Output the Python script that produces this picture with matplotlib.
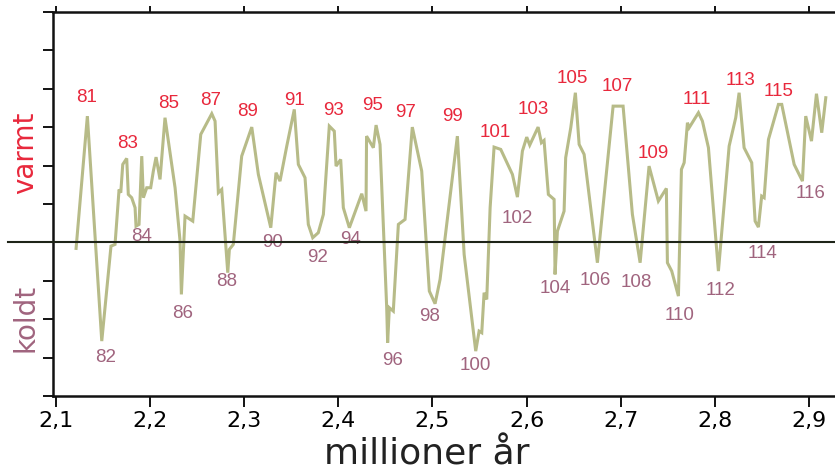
import matplotlib
matplotlib.use("Agg")
import matplotlib.pyplot as plt
from matplotlib.ticker import FixedLocator, FuncFormatter

# climate curve (million years, relative temperature)
age = [2.1213, 2.1333, 2.1486, 2.1584, 2.1627, 2.1670, 2.1688, 2.1709, 2.1751, 2.1768,
       2.1804, 2.1840, 2.1850, 2.1882, 2.1911, 2.1928, 2.1964, 2.2006, 2.2034, 2.2063,
       2.2105, 2.2158, 2.2265, 2.2318, 2.2332, 2.2371, 2.2453, 2.2538, 2.2655, 2.2690,
       2.2725, 2.2761, 2.2825, 2.2842, 2.2884, 2.2973, 2.3080, 2.3150, 2.3282, 2.3338,
       2.3380, 2.3452, 2.3532, 2.3575, 2.3646, 2.3681, 2.3728, 2.3787, 2.3841, 2.3904,
       2.3957, 2.3976, 2.4025, 2.4053, 2.4117, 2.4249, 2.4294, 2.4300, 2.4372, 2.4401,
       2.4443, 2.4514, 2.4524, 2.4542, 2.4584, 2.4638, 2.4709, 2.4786, 2.4886, 2.4967,
       2.5028, 2.5081, 2.5265, 2.5337, 2.5460, 2.5496, 2.5524, 2.5549, 2.5577, 2.5613,
       2.5655, 2.5726, 2.5850, 2.5903, 2.5956, 2.6002, 2.6034, 2.6123, 2.6158, 2.6186,
       2.6232, 2.6293, 2.6303, 2.6328, 2.6399, 2.6416, 2.6470, 2.6519, 2.6559, 2.6612,
       2.6753, 2.6920, 2.7026, 2.7125, 2.7207, 2.7302, 2.7401, 2.7486, 2.7497, 2.7543,
       2.7614, 2.7646, 2.7675, 2.7710, 2.7728, 2.7827, 2.7869, 2.7933, 2.8039, 2.8153,
       2.8223, 2.8259, 2.8312, 2.8393, 2.8429, 2.8464, 2.8499, 2.8525, 2.8571, 2.8677,
       2.8712, 2.8844, 2.8932, 2.8967, 2.9028, 2.9081, 2.9137, 2.9180]
temp = [-0.156, 3.289, -2.570, -0.096, -0.052, 1.380, 1.294, 2.031, 2.188, 1.250,
        1.164, 0.904, 0.424, 0.469, 2.247, 1.164, 1.424, 1.424, 1.857, 2.221,
        1.641, 3.247, 1.424, 0.034, -1.354, 0.685, 0.555, 2.813, 3.352, 3.159,
        1.294, 1.380, -0.789, -0.182, -0.052, 2.247, 3.003, 1.771, 0.383, 1.815,
        1.596, 2.508, 3.464, 2.031, 1.685, 0.469, 0.122, 0.253, 0.729, 3.029,
        2.898, 1.987, 2.161, 0.904, 0.383, 1.268, 0.815, 2.768, 2.466, 3.055,
        2.552, -1.701, -2.612, -1.701, -1.789, 0.469, 0.599, 3.003, 1.857, -1.268,
        -1.596, -0.964, 2.768, -0.313, -2.831, -2.310, -2.352, -1.310, -1.484, 0.904,
        2.482, 2.422, 1.771, 1.180, 2.378, 2.742, 2.534, 3.003, 2.596, 2.656,
        1.250, 1.120, -0.833, 0.294, 0.815, 2.206, 2.987, 3.898, 2.552, 2.292,
        -0.529, 3.549, 3.549, 0.729, -0.529, 1.987, 1.076, 1.406, -0.529, -0.747,
        -1.398, 1.901, 2.076, 3.117, 2.987, 3.378, 3.159, 2.466, -0.747, 2.508,
        3.247, 3.898, 2.466, 2.076, 0.555, 0.398, 1.206, 1.164, 2.682, 3.594,
        3.594, 2.031, 1.596, 3.289, 2.638, 3.872, 2.857, 3.768]

# stage numbers: warm (odd) and cold (even)
warm_num = [81, 83, 85, 87, 89, 91, 93, 95, 97, 99, 101, 103, 105, 107, 109, 111, 113, 115]
warm_x = [2.1329, 2.1755, 2.2201, 2.2647, 2.3040, 2.3529, 2.3944, 2.4369, 2.4719, 2.5208,
          2.5665, 2.6069, 2.6483, 2.6962, 2.7344, 2.7812, 2.8279, 2.8683]
warm_y = [3.776, 2.578, 3.620, 3.698, 3.411, 3.698, 3.438, 3.568, 3.385, 3.281,
          2.865, 3.464, 4.271, 4.063, 2.318, 3.724, 4.219, 3.932]
cold_num = [82, 84, 86, 88, 90, 92, 94, 96, 98, 100, 102, 104, 106, 108, 110, 112, 114, 116]
cold_x = [2.1531, 2.1914, 2.2350, 2.2817, 2.3306, 2.3774, 2.4124, 2.4571, 2.4974, 2.5453,
          2.5899, 2.6303, 2.6728, 2.7164, 2.7631, 2.8067, 2.8503, 2.9023]
cold_y = [-2.995, 0.156, -1.849, -1.016, 0.0, -0.391, 0.078, -3.073, -1.927, -3.203,
          0.625, -1.198, -0.990, -1.042, -1.901, -1.250, -0.286, 1.276]

xticks = [2.1, 2.2, 2.3, 2.4, 2.5, 2.6, 2.7, 2.8, 2.9]

LINE = "#b7bb88"
RED = "#e8283c"
MAUVE = "#a0647e"

fig = plt.figure(figsize=(8.35, 4.71), dpi=100)
ax = fig.add_axes([0.0635, 0.1592, 0.9365, 0.8153])

ax.plot(age, temp, color=LINE, lw=2.2, zorder=2, solid_joinstyle="miter")
ax.axhline(0, xmin=-0.058, xmax=1, color="#1e2418", lw=1.5, clip_on=False, zorder=3)

for n, x, y in zip(warm_num, warm_x, warm_y):
    ax.text(x, y, str(n), color=RED, fontsize=13.5, ha="center", va="center",
            family="Liberation Sans", zorder=1)
for n, x, y in zip(cold_num, cold_x, cold_y):
    ax.text(x, y, str(n), color=MAUVE, fontsize=13.5, ha="center", va="center",
            family="Liberation Sans", zorder=1)

ax.set_xlim(2.0968, 2.9278)
ax.set_ylim(-4, 6)
ax.xaxis.set_major_locator(FixedLocator(xticks))
ax.xaxis.set_major_formatter(FuncFormatter(lambda v, p: ("%.1f" % v).replace(".", ",")))
ax.yaxis.set_major_locator(FixedLocator(range(-4, 7)))
ax.set_yticklabels([])
ax.tick_params(axis="x", direction="out", length=8, width=1.3, labelsize=16, pad=3,
               top=True, labeltop=False)
ax.tick_params(axis="y", direction="out", length=7, width=1.3)
for s in ["left", "top", "bottom"]:
    ax.spines[s].set_linewidth(1.8)
    ax.spines[s].set_color("#111111")
ax.spines["right"].set_visible(False)
for t in ax.xaxis.get_major_ticks():
    t.tick2line.set_markersize(4)

fig.text(0.030, 0.675, "varmt", color=RED, fontsize=20, rotation=90, ha="center", va="center")
fig.text(0.030, 0.325, "koldt", color=MAUVE, fontsize=20, rotation=90, ha="center", va="center")
fig.text(0.511, 0.035, "millioner år", color="#222222", fontsize=26, ha="center", va="center")

fig.savefig("out.png", dpi=100)
